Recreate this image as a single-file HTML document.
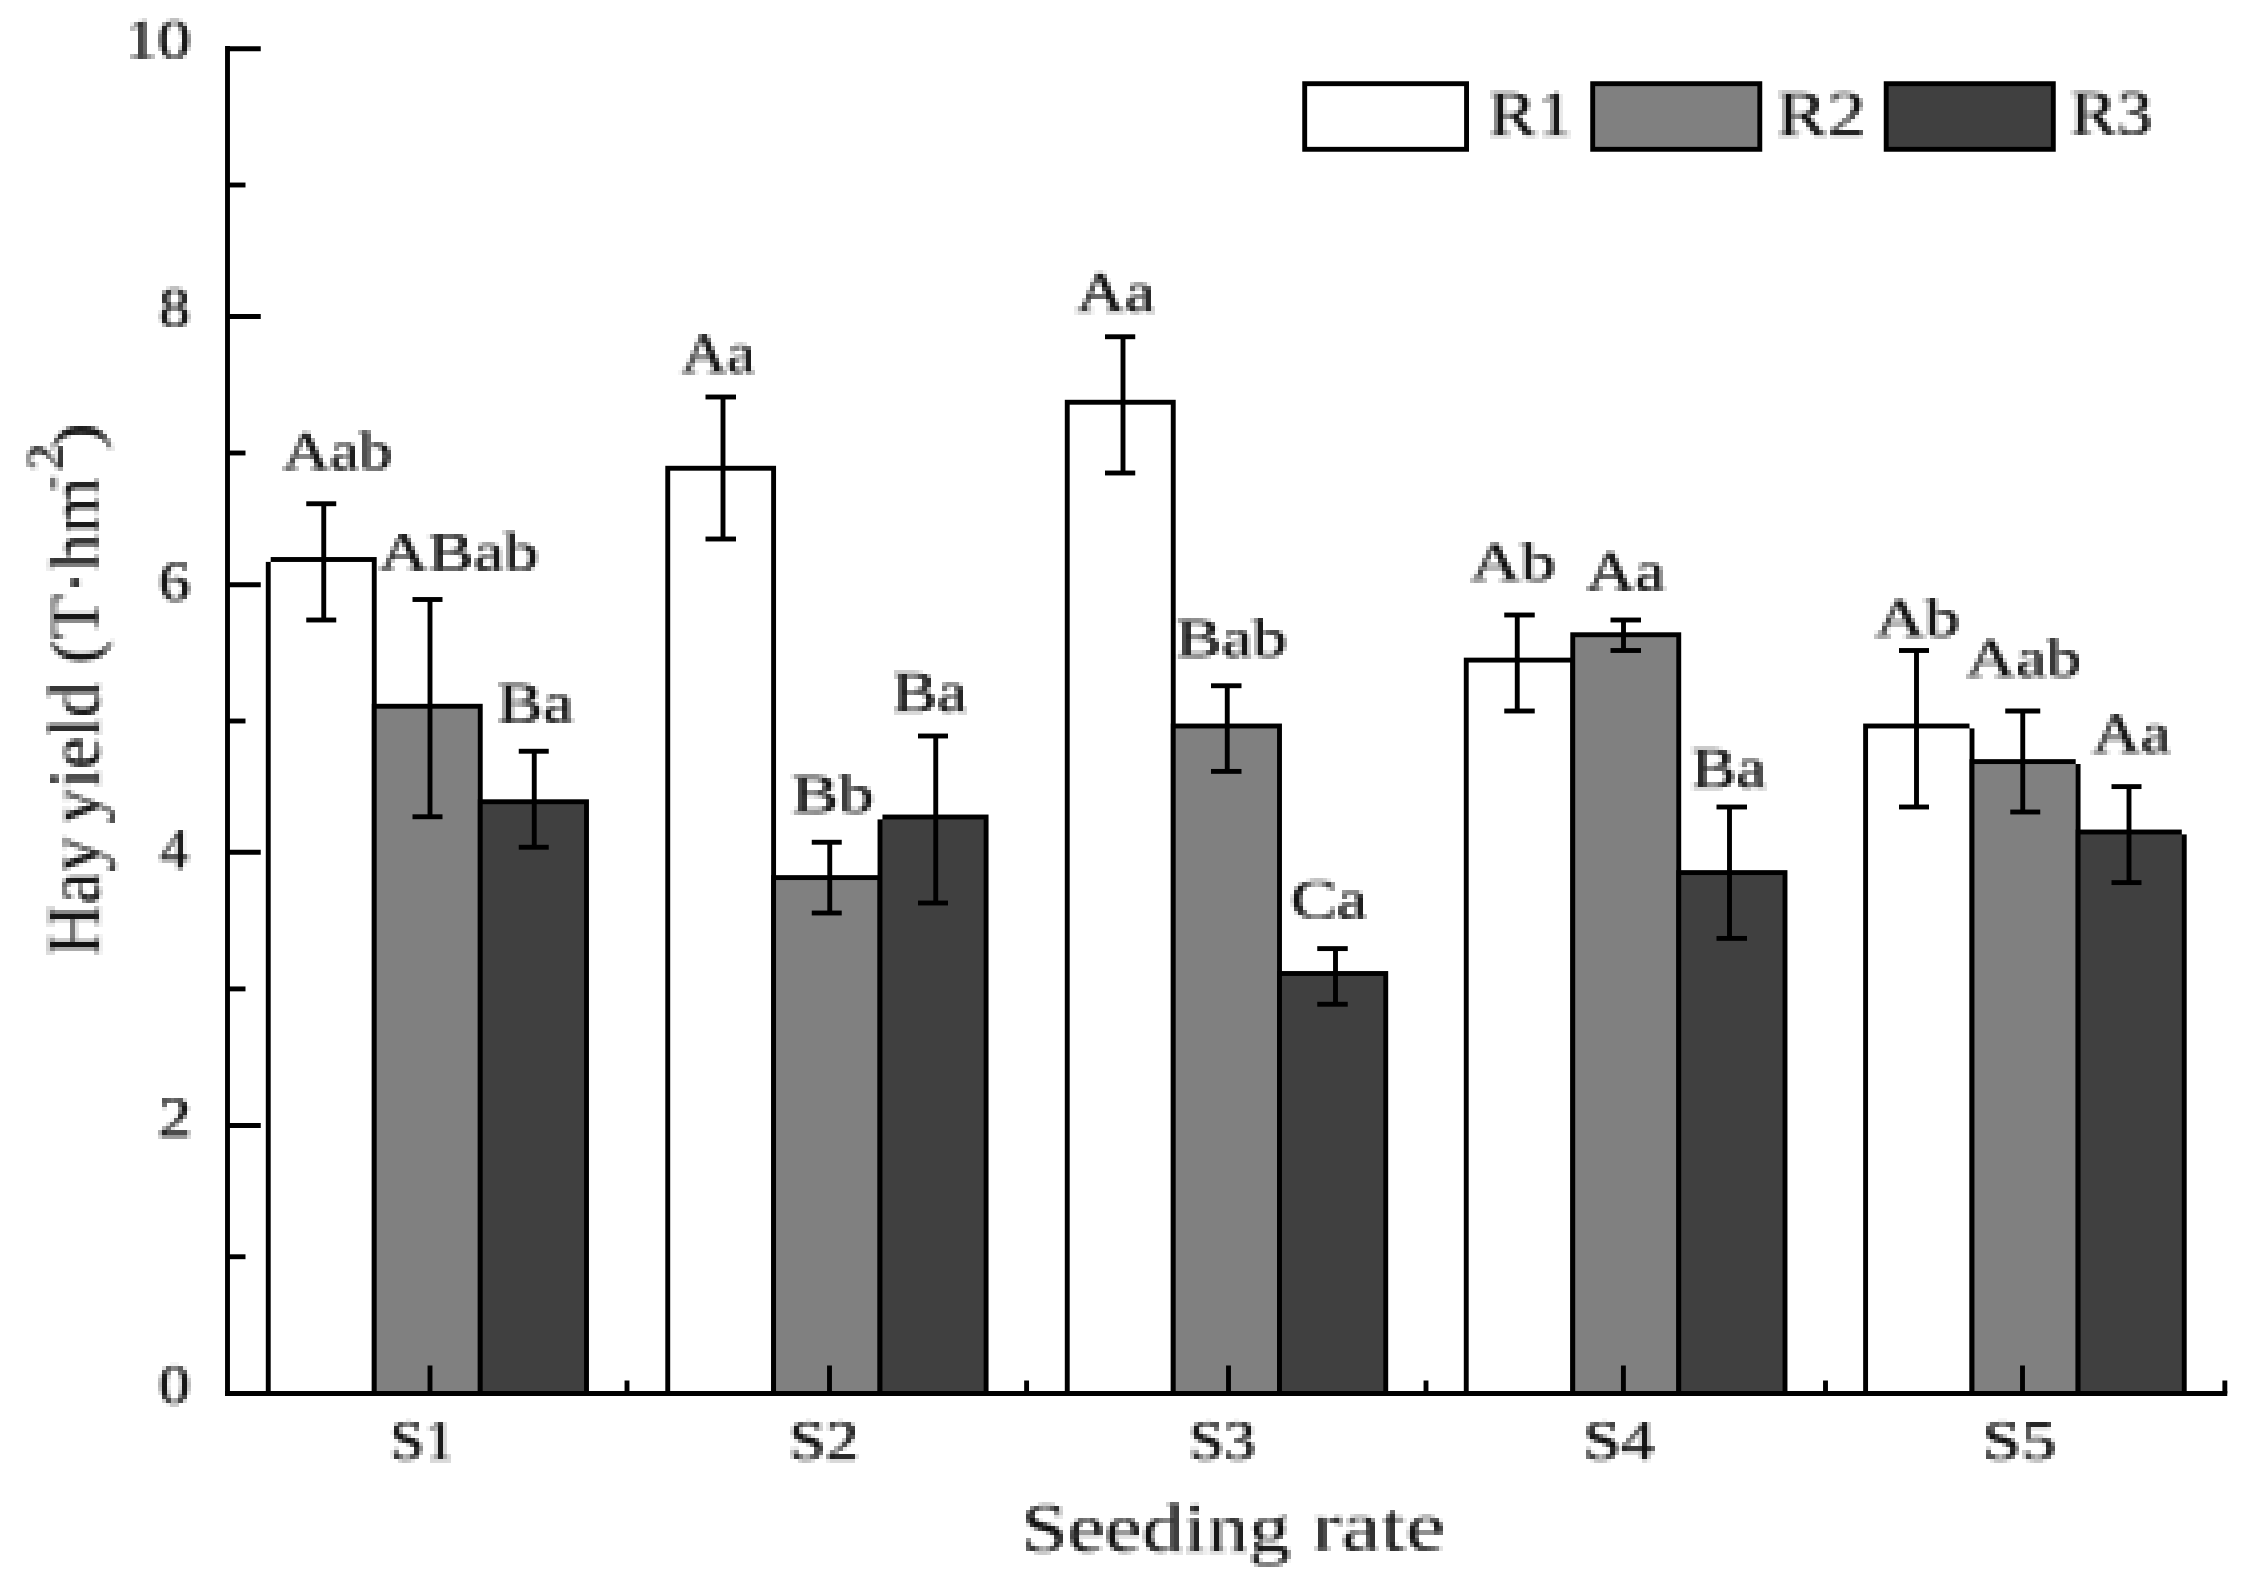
<!DOCTYPE html>
<html><head><meta charset="utf-8"><title>Hay yield by seeding rate</title>
<style>
html,body{margin:0;padding:0;background:#fff;overflow:hidden;}
svg{display:block}
text{font-family:"Liberation Serif",serif;font-size:100px;fill:#000;stroke:#f00;stroke-linejoin:round;text-rendering:geometricPrecision;}
</style></head><body>
<svg width="2252" height="1586" viewBox="0 0 2252 1586">
<rect x="0" y="0" width="2252" height="1586" fill="#fff"/>
<rect x="268.25" y="559.50" width="106.00" height="834.00" fill="#ffffff" stroke="#000" stroke-width="4.9"/>
<rect x="374.25" y="706.25" width="106.00" height="687.25" fill="#808080" stroke="#000" stroke-width="4.9"/>
<rect x="480.25" y="801.75" width="106.25" height="591.75" fill="#404040" stroke="#000" stroke-width="4.9"/>
<rect x="667.75" y="468.25" width="105.85" height="925.25" fill="#ffffff" stroke="#000" stroke-width="4.9"/>
<rect x="773.60" y="877.60" width="106.40" height="515.90" fill="#808080" stroke="#000" stroke-width="4.9"/>
<rect x="880.00" y="817.00" width="106.10" height="576.50" fill="#404040" stroke="#000" stroke-width="4.9"/>
<rect x="1067.25" y="402.25" width="106.00" height="991.25" fill="#ffffff" stroke="#000" stroke-width="4.9"/>
<rect x="1173.25" y="726.00" width="106.25" height="667.50" fill="#808080" stroke="#000" stroke-width="4.9"/>
<rect x="1279.50" y="973.50" width="106.25" height="420.00" fill="#404040" stroke="#000" stroke-width="4.9"/>
<rect x="1466.25" y="660.10" width="106.50" height="733.40" fill="#ffffff" stroke="#000" stroke-width="4.9"/>
<rect x="1572.75" y="634.75" width="106.00" height="758.75" fill="#808080" stroke="#000" stroke-width="4.9"/>
<rect x="1678.75" y="872.60" width="106.25" height="520.90" fill="#404040" stroke="#000" stroke-width="4.9"/>
<rect x="1865.60" y="726.00" width="106.40" height="667.50" fill="#ffffff" stroke="#000" stroke-width="4.9"/>
<rect x="1972.00" y="761.60" width="106.10" height="631.90" fill="#808080" stroke="#000" stroke-width="4.9"/>
<rect x="2078.10" y="832.00" width="106.15" height="561.50" fill="#404040" stroke="#000" stroke-width="4.9"/>
<rect x="265" y="556" width="5.70" height="5.90" fill="#fff"/>
<rect x="877" y="814" width="5.45" height="5.40" fill="#fff"/>
<rect x="1969.5" y="723" width="5.50" height="5.40" fill="#fff"/>
<rect x="2075.7" y="759" width="5.30" height="5.00" fill="#fff"/>
<rect x="2181.8" y="829" width="5.20" height="5.40" fill="#fff"/>
<line x1="227.50" y1="46.00" x2="227.50" y2="1396.00" stroke="#000" stroke-width="4.9"/>
<line x1="225.00" y1="1393.50" x2="2227.25" y2="1393.50" stroke="#000" stroke-width="4.9"/>
<line x1="227.50" y1="48.75" x2="260.75" y2="48.75" stroke="#000" stroke-width="4.9"/>
<line x1="227.50" y1="185.00" x2="245.50" y2="185.00" stroke="#000" stroke-width="4.9"/>
<line x1="227.50" y1="316.50" x2="260.75" y2="316.50" stroke="#000" stroke-width="4.9"/>
<line x1="227.50" y1="453.00" x2="245.50" y2="453.00" stroke="#000" stroke-width="4.9"/>
<line x1="227.50" y1="584.75" x2="260.75" y2="584.75" stroke="#000" stroke-width="4.9"/>
<line x1="227.50" y1="721.00" x2="245.50" y2="721.00" stroke="#000" stroke-width="4.9"/>
<line x1="227.50" y1="852.25" x2="260.75" y2="852.25" stroke="#000" stroke-width="4.9"/>
<line x1="227.50" y1="988.90" x2="245.50" y2="988.90" stroke="#000" stroke-width="4.9"/>
<line x1="227.50" y1="1125.50" x2="260.75" y2="1125.50" stroke="#000" stroke-width="4.9"/>
<line x1="227.50" y1="1256.75" x2="245.50" y2="1256.75" stroke="#000" stroke-width="4.9"/>
<line x1="430.00" y1="1365.50" x2="430.00" y2="1393.50" stroke="#000" stroke-width="4.9"/>
<line x1="829.50" y1="1365.50" x2="829.50" y2="1393.50" stroke="#000" stroke-width="4.9"/>
<line x1="1228.50" y1="1365.50" x2="1228.50" y2="1393.50" stroke="#000" stroke-width="4.9"/>
<line x1="1623.40" y1="1365.50" x2="1623.40" y2="1393.50" stroke="#000" stroke-width="4.9"/>
<line x1="2022.50" y1="1365.50" x2="2022.50" y2="1393.50" stroke="#000" stroke-width="4.9"/>
<line x1="627.00" y1="1380.50" x2="627.00" y2="1393.50" stroke="#000" stroke-width="4.9"/>
<line x1="1026.60" y1="1380.50" x2="1026.60" y2="1393.50" stroke="#000" stroke-width="4.9"/>
<line x1="1426.00" y1="1380.50" x2="1426.00" y2="1393.50" stroke="#000" stroke-width="4.9"/>
<line x1="1825.50" y1="1380.50" x2="1825.50" y2="1393.50" stroke="#000" stroke-width="4.9"/>
<line x1="2224.85" y1="1380.50" x2="2224.85" y2="1393.50" stroke="#000" stroke-width="4.9"/>
<line x1="323.75" y1="503.75" x2="323.75" y2="620.00" stroke="#000" stroke-width="4.9"/>
<line x1="306.25" y1="503.75" x2="336.25" y2="503.75" stroke="#000" stroke-width="4.9"/>
<line x1="306.25" y1="620.00" x2="336.25" y2="620.00" stroke="#000" stroke-width="4.9"/>
<line x1="430.00" y1="599.50" x2="430.00" y2="816.75" stroke="#000" stroke-width="4.9"/>
<line x1="412.50" y1="599.50" x2="442.50" y2="599.50" stroke="#000" stroke-width="4.9"/>
<line x1="412.50" y1="816.75" x2="442.50" y2="816.75" stroke="#000" stroke-width="4.9"/>
<line x1="534.25" y1="751.25" x2="534.25" y2="847.25" stroke="#000" stroke-width="4.9"/>
<line x1="518.75" y1="751.25" x2="548.75" y2="751.25" stroke="#000" stroke-width="4.9"/>
<line x1="518.75" y1="847.25" x2="548.75" y2="847.25" stroke="#000" stroke-width="4.9"/>
<line x1="723.00" y1="397.00" x2="723.00" y2="539.00" stroke="#000" stroke-width="4.9"/>
<line x1="705.50" y1="397.00" x2="736.00" y2="397.00" stroke="#000" stroke-width="4.9"/>
<line x1="705.50" y1="539.00" x2="736.00" y2="539.00" stroke="#000" stroke-width="4.9"/>
<line x1="829.75" y1="842.25" x2="829.75" y2="913.00" stroke="#000" stroke-width="4.9"/>
<line x1="811.75" y1="842.25" x2="841.75" y2="842.25" stroke="#000" stroke-width="4.9"/>
<line x1="811.75" y1="913.00" x2="841.75" y2="913.00" stroke="#000" stroke-width="4.9"/>
<line x1="935.75" y1="736.00" x2="935.75" y2="903.00" stroke="#000" stroke-width="4.9"/>
<line x1="918.00" y1="736.00" x2="948.00" y2="736.00" stroke="#000" stroke-width="4.9"/>
<line x1="918.00" y1="903.00" x2="948.00" y2="903.00" stroke="#000" stroke-width="4.9"/>
<line x1="1123.00" y1="336.75" x2="1123.00" y2="473.00" stroke="#000" stroke-width="4.9"/>
<line x1="1105.00" y1="336.75" x2="1135.25" y2="336.75" stroke="#000" stroke-width="4.9"/>
<line x1="1105.00" y1="473.00" x2="1135.25" y2="473.00" stroke="#000" stroke-width="4.9"/>
<line x1="1227.25" y1="685.75" x2="1227.25" y2="771.40" stroke="#000" stroke-width="4.9"/>
<line x1="1211.00" y1="685.75" x2="1241.50" y2="685.75" stroke="#000" stroke-width="4.9"/>
<line x1="1211.00" y1="771.40" x2="1241.50" y2="771.40" stroke="#000" stroke-width="4.9"/>
<line x1="1335.50" y1="948.60" x2="1335.50" y2="1004.25" stroke="#000" stroke-width="4.9"/>
<line x1="1317.25" y1="948.60" x2="1347.75" y2="948.60" stroke="#000" stroke-width="4.9"/>
<line x1="1317.25" y1="1004.25" x2="1347.75" y2="1004.25" stroke="#000" stroke-width="4.9"/>
<line x1="1517.25" y1="615.00" x2="1517.25" y2="711.00" stroke="#000" stroke-width="4.9"/>
<line x1="1504.25" y1="615.00" x2="1534.75" y2="615.00" stroke="#000" stroke-width="4.9"/>
<line x1="1504.25" y1="711.00" x2="1534.75" y2="711.00" stroke="#000" stroke-width="4.9"/>
<line x1="1623.50" y1="620.00" x2="1623.50" y2="650.50" stroke="#000" stroke-width="4.9"/>
<line x1="1610.50" y1="620.00" x2="1641.00" y2="620.00" stroke="#000" stroke-width="4.9"/>
<line x1="1610.50" y1="650.50" x2="1641.00" y2="650.50" stroke="#000" stroke-width="4.9"/>
<line x1="1729.50" y1="807.00" x2="1729.50" y2="938.40" stroke="#000" stroke-width="4.9"/>
<line x1="1716.50" y1="807.00" x2="1747.00" y2="807.00" stroke="#000" stroke-width="4.9"/>
<line x1="1716.50" y1="938.40" x2="1747.00" y2="938.40" stroke="#000" stroke-width="4.9"/>
<line x1="1916.50" y1="650.50" x2="1916.50" y2="807.00" stroke="#000" stroke-width="4.9"/>
<line x1="1899.00" y1="650.50" x2="1929.00" y2="650.50" stroke="#000" stroke-width="4.9"/>
<line x1="1899.00" y1="807.00" x2="1929.00" y2="807.00" stroke="#000" stroke-width="4.9"/>
<line x1="2022.75" y1="711.00" x2="2022.75" y2="812.00" stroke="#000" stroke-width="4.9"/>
<line x1="2005.25" y1="711.00" x2="2040.25" y2="711.00" stroke="#000" stroke-width="4.9"/>
<line x1="2010.25" y1="812.00" x2="2040.25" y2="812.00" stroke="#000" stroke-width="4.9"/>
<line x1="2129.00" y1="786.60" x2="2129.00" y2="882.60" stroke="#000" stroke-width="4.9"/>
<line x1="2111.50" y1="786.60" x2="2141.50" y2="786.60" stroke="#000" stroke-width="4.9"/>
<line x1="2111.50" y1="882.60" x2="2141.50" y2="882.60" stroke="#000" stroke-width="4.9"/>
<rect x="1304.70" y="83.70" width="161.85" height="65.60" fill="#ffffff" stroke="#000" stroke-width="4.9"/>
<rect x="1592.70" y="83.70" width="167.10" height="65.60" fill="#808080" stroke="#000" stroke-width="4.9"/>
<rect x="1886.20" y="83.70" width="167.10" height="65.60" fill="#404040" stroke="#000" stroke-width="4.9"/><defs><filter id="pix" filterUnits="userSpaceOnUse" x="0" y="0" width="2252" height="1586" color-interpolation-filters="sRGB">
<feColorMatrix in="SourceGraphic" type="matrix" values="0 0 0 0 0.06  0 0 0 0 0.06  0 0 0 0 0.06  -1 0 0 1 0" result="k"/>
<feGaussianBlur in="k" stdDeviation="1.3" result="b"/>
<feFlood x="4" y="4" width="1" height="1" flood-color="#000" result="f"/>
<feComposite in="f" in2="f" operator="over" x="2" y="2" width="4.54" height="4.54" result="c"/>
<feTile in="c" result="t"/>
<feComposite in="b" in2="t" operator="in" result="s"/>
<feMorphology in="s" operator="dilate" radius="2.3" result="m"/>
<feComponentTransfer in="m"><feFuncA type="gamma" amplitude="1" exponent="0.55" offset="0"/></feComponentTransfer>
</filter></defs><g filter="url(#pix)"><text transform="translate(1488.25,134.91) scale(0.7254,0.6358)" stroke-width="2.21" >R1</text>
<text transform="translate(1776.16,134.91) scale(0.7689,0.6358)" stroke-width="2.29" >R2</text>
<text transform="translate(2070.04,134.30) scale(0.7059,0.6265)" stroke-width="2.15" >R3</text>
<text transform="translate(124.66,58.44) scale(0.6612,0.5529)" stroke-width="1.98" >10</text>
<text transform="translate(159.35,326.44) scale(0.6159,0.5529)" stroke-width="2.05" >8</text>
<text transform="translate(158.69,599.92) scale(0.6273,0.5640)" stroke-width="2.01" >6</text>
<text transform="translate(160.12,867.73) scale(0.5750,0.5697)" stroke-width="2.10" >4</text>
<text transform="translate(158.01,1135.74) scale(0.6732,0.5612)" stroke-width="1.94" >2</text>
<text transform="translate(158.82,1403.19) scale(0.6273,0.5529)" stroke-width="2.03" >0</text>
<text transform="translate(390.01,1458.94) scale(0.6153,0.5566)" stroke-width="2.05" >S1</text>
<text transform="translate(788.98,1458.94) scale(0.6616,0.5566)" stroke-width="1.97" >S2</text>
<text transform="translate(1188.92,1458.94) scale(0.6298,0.5566)" stroke-width="2.02" >S3</text>
<text transform="translate(1583.13,1458.94) scale(0.6779,0.5566)" stroke-width="1.94" >S4</text>
<text transform="translate(1982.25,1458.94) scale(0.6997,0.5566)" stroke-width="1.98" >S5</text>
<text transform="translate(1021.18,1551.12) scale(0.8364,0.6872)" stroke-width="2.51" >Seeding</text>
<text transform="translate(1311.67,1549.85) scale(0.8919,0.7035)" stroke-width="2.62" >rate</text>
<text transform="translate(282.45,468.51) scale(0.6577,0.5371)" stroke-width="2.01" >Aab</text>
<text transform="translate(378.70,569.76) scale(0.6843,0.5371)" stroke-width="1.96" >ABab</text>
<text transform="translate(497.33,721.73) scale(0.6840,0.5697)" stroke-width="1.97" >Ba</text>
<text transform="translate(681.20,372.49) scale(0.6333,0.5612)" stroke-width="2.01" >Aa</text>
<text transform="translate(791.54,812.26) scale(0.7059,0.5371)" stroke-width="1.94" >Bb</text>
<text transform="translate(892.36,711.23) scale(0.6725,0.5697)" stroke-width="1.94" >Ba</text>
<text transform="translate(1076.20,311.49) scale(0.6763,0.5612)" stroke-width="1.94" >Aa</text>
<text transform="translate(1175.82,655.51) scale(0.6894,0.5371)" stroke-width="1.96" >Bab</text>
<text transform="translate(1290.68,918.44) scale(0.6921,0.5529)" stroke-width="1.95" >Ca</text>
<text transform="translate(1470.20,580.01) scale(0.6991,0.5371)" stroke-width="1.94" >Ab</text>
<text transform="translate(1585.95,589.99) scale(0.6785,0.5612)" stroke-width="1.94" >Aa</text>
<text transform="translate(1691.36,787.23) scale(0.6725,0.5697)" stroke-width="1.94" >Ba</text>
<text transform="translate(1874.70,635.51) scale(0.6970,0.5371)" stroke-width="1.94" >Ab</text>
<text transform="translate(1965.70,676.01) scale(0.6928,0.5371)" stroke-width="1.95" >Aab</text>
<text transform="translate(2092.20,751.74) scale(0.6720,0.5612)" stroke-width="1.95" >Aa</text>
<g>
<text transform="translate(98.90,956.14) rotate(-90) scale(0.7205,0.7570)" stroke-width="2.43">Hay</text>
<text transform="translate(99.38,823.81) rotate(-90) scale(0.7093,0.7344)" stroke-width="2.37">yield</text>
<text transform="translate(97.59,663.72) rotate(-90) scale(0.7308,0.6913)" stroke-width="2.33">(T·hm</text>
<text transform="translate(69.80,490.04) rotate(-90) scale(0.4148,0.7000)" stroke-width="2.15" fill-opacity="0.55">-</text>
<text transform="translate(61.50,470.55) rotate(-90) scale(0.5366,0.5045)" stroke-width="2.31">2</text>
<text transform="translate(97.95,451.45) rotate(-90) scale(0.8846,0.6750)" stroke-width="2.56">)</text>
</g></g>
</svg>
</body></html>
